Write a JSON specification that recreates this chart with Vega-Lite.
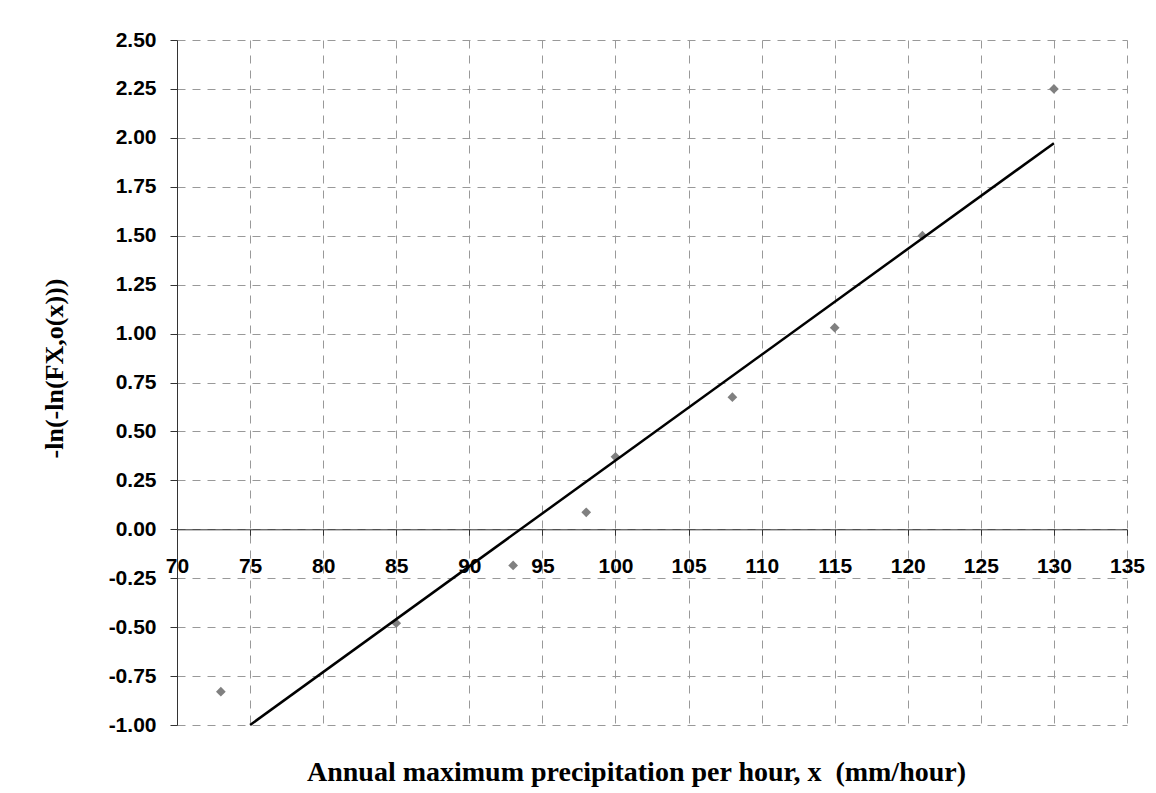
{
  "$schema": "https://vega.github.io/schema/vega-lite/v6.json",
  "width": 950,
  "height": 685,
  "autosize": {"type": "none"},
  "padding": {"left": 177, "top": 40, "right": 29, "bottom": 68},
  "background": "white",
  "config": {
    "view": {"stroke": null},
    "axis": {
      "labelFont": "Liberation Sans",
      "labelFontWeight": "bold",
      "labelFontSize": 21,
      "labelColor": "black",
      "titleFont": "Liberation Serif",
      "titleFontWeight": "bold",
      "titleColor": "black",
      "domainColor": "#333333",
      "tickColor": "#333333",
      "gridColor": "#999999",
      "gridDash": [8, 7],
      "gridWidth": 1
    }
  },
  "datasets": {
    "obs": [
      {"x": 73, "y": -0.83},
      {"x": 85, "y": -0.48},
      {"x": 93, "y": -0.185},
      {"x": 98, "y": 0.087},
      {"x": 100, "y": 0.37},
      {"x": 108, "y": 0.675},
      {"x": 115, "y": 1.03},
      {"x": 121, "y": 1.5},
      {"x": 130, "y": 2.25}
    ],
    "fit": [
      {"x": 75, "y": -1.0},
      {"x": 130, "y": 1.973}
    ]
  },
  "layer": [
    {
      "data": {"name": "obs"},
      "mark": {"type": "point", "shape": "diamond", "filled": true, "color": "#808080", "size": 95, "opacity": 1},
      "encoding": {
        "x": {
          "field": "x", "type": "quantitative",
          "scale": {"domain": [70, 135], "nice": false, "zero": false},
          "axis": {
            "values": [70, 75, 80, 85, 90, 95, 100, 105, 110, 115, 120, 125, 130, 135],
            "offset": -195.7,
            "tickSize": 6,
            "labelPadding": 20,
            "labelFlush": false,
            "labelOverlap": false,
            "title": "Annual maximum precipitation per hour, x\u00a0\u00a0(mm/hour)",
            "titleFontSize": 28,
            "titleY": 251,
            "titleX": 459,
            "titleBaseline": "alphabetic"
          }
        },
        "y": {
          "field": "y", "type": "quantitative",
          "scale": {"domain": [-1, 2.5], "nice": false, "zero": false},
          "axis": {
            "values": [-1, -0.75, -0.5, -0.25, 0, 0.25, 0.5, 0.75, 1, 1.25, 1.5, 1.75, 2, 2.25, 2.5],
            "labelExpr": "replace(format(datum.value, '.2f'), '\u2212', '-')",
            "tickSize": 7,
            "labelPadding": 14,
            "labelFlush": false,
            "labelOverlap": false,
            "title": "-ln(-ln(FX,o(x)))",
            "titleFontSize": 26,
            "titlePadding": 41,
            "titleY": 328,
            "titleAlign": "center"
          }
        }
      }
    },
    {
      "data": {"name": "fit"},
      "mark": {"type": "line", "color": "black", "strokeWidth": 2.5},
      "encoding": {
        "x": {"field": "x", "type": "quantitative"},
        "y": {"field": "y", "type": "quantitative"}
      }
    }
  ]
}
